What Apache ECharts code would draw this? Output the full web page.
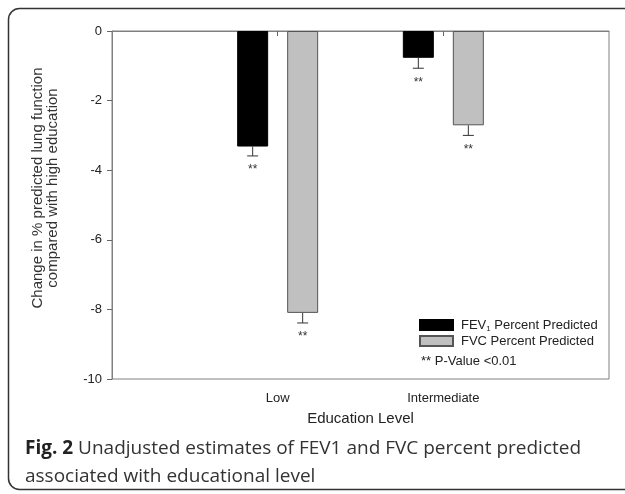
<!DOCTYPE html>
<html>
<head>
<meta charset="utf-8">
<script src="https://cdn.jsdelivr.net/npm/echarts@6/dist/echarts.min.js"></script>
<style>html,body{margin:0;padding:0;background:#fff;}#c{width:625px;height:494px;}</style>
</head>
<body>
<div id="c"></div>
<script>
const categories = ['Low', 'Intermediate'];
const fev1 = [-3.32, -0.77];
const fev1Err = [0.27, 0.30];
const fvc = [-8.10, -2.71];
const fvcErr = [0.29, 0.29];
const yMin = -10, yMax = 0, yInterval = 2;
const seriesNames = ['FEV1 Percent Predicted', 'FVC Percent Predicted'];
const yTitle = 'Change in % predicted lung function\ncompared with high education';
const xTitle = 'Education Level';
const noteText = '** P-Value <0.01';
const captionBold = 'Fig. 2';
const captionText = ' Unadjusted estimates of FEV1 and FVC percent predicted\nassociated with educational level';

const axisCats = [''].concat(categories, ['']);
const pad = arr => ['-'].concat(arr, ['-']);

const BAR_W = 31, BAR_GAP = 19;
const OFF = (BAR_W + BAR_GAP) / 2;

const errData = [];
categories.forEach((c, i) => {
  errData.push([i + 1, fev1[i], fev1Err[i], -1]);
  errData.push([i + 1, fvc[i], fvcErr[i], 1]);
});

const FONT = '"Liberation Sans", Arial, sans-serif';
const chart = echarts.init(document.getElementById('c'), null, {renderer: 'canvas'});
chart.setOption({
  animation: false,
  backgroundColor: '#fff',
  grid: {left: 112, top: 31, right: 16, bottom: 115, show: true, borderColor: '#808080', borderWidth: 1},
  xAxis: {
    type: 'category',
    data: axisCats,
    boundaryGap: false,
    axisLine: {lineStyle: {color: '#808080', width: 1}},
    axisTick: {length: 5, lineStyle: {color: '#666'}, interval: (i) => i > 0 && i < axisCats.length - 1},
    axisLabel: {color: '#222', fontSize: 13, fontFamily: FONT, margin: 13, interval: 0},
    name: xTitle,
    nameLocation: 'middle',
    nameGap: 32,
    nameTextStyle: {color: '#222', fontSize: 15, fontFamily: FONT},
    splitLine: {show: false}
  },
  yAxis: {
    type: 'value',
    min: yMin, max: yMax, interval: yInterval,
    axisLine: {show: true, lineStyle: {color: '#808080', width: 1}},
    axisTick: {show: true, length: 5, lineStyle: {color: '#666'}},
    axisLabel: {color: '#222', fontSize: 13, fontFamily: FONT, margin: 10},
    splitLine: {show: false}
  },
  legend: {
    orient: 'vertical',
    left: 419, top: 317, padding: 0,
    itemWidth: 33, itemHeight: 10, itemGap: 0,
    icon: 'rect',
    data: seriesNames,
    formatter: (n) => n.indexOf('FEV1') === 0 ? 'FEV{s|1}' + n.slice(4) : n,
    textStyle: {color: '#222', fontSize: 13, fontFamily: FONT, lineHeight: 16, padding: [0, 0, 0, 3],
      rich: {s: {fontSize: 8, fontFamily: FONT, color: '#222', lineHeight: 16, verticalAlign: 'bottom'}}}
  },
  series: [
    {name: seriesNames[0], type: 'bar', data: pad(fev1), barWidth: BAR_W, barGap: (BAR_GAP / BAR_W * 100).toFixed(1) + '%',
      itemStyle: {color: '#000', borderColor: '#000', borderWidth: 1}},
    {name: seriesNames[1], type: 'bar', data: pad(fvc), barWidth: BAR_W,
      itemStyle: {color: '#c0c0c0', borderColor: '#555', borderWidth: 1}},
    {type: 'custom', data: errData, z: 5, silent: true,
      renderItem: (params, api) => {
        const x = api.coord([api.value(0), 0])[0] + api.value(3) * OFF;
        const v = api.value(1), e = api.value(2);
        const y0 = api.coord([0, v])[1];
        const y1 = api.coord([0, v - e])[1];
        const st = {stroke: '#333', lineWidth: 1};
        return {type: 'group', children: [
          {type: 'line', shape: {x1: x, y1: y0, x2: x, y2: y1}, style: st},
          {type: 'line', shape: {x1: x - 5.5, y1: y1, x2: x + 5.5, y2: y1}, style: st},
          {type: 'text', style: {text: '**', x: x, y: y1 + 14, align: 'center', verticalAlign: 'middle', fontSize: 12, fontFamily: FONT, fill: '#333'}}
        ]};
      }}
  ],
  graphic: [
    {type: 'rect', shape: {x: 8.5, y: 8.5, width: 660, height: 481, r: 11}, style: {fill: 'none', stroke: '#333', lineWidth: 1.5}, silent: true},
    {type: 'text', x: 45, y: 188, rotation: Math.PI / 2, style: {
      text: yTitle, align: 'center', verticalAlign: 'middle',
      fontSize: 15, lineHeight: 15, fontFamily: FONT, fill: '#333'}},
    {type: 'text', left: 421, top: 355, style: {text: noteText, fontSize: 13, fontFamily: FONT, fill: '#222'}},
    {type: 'text', left: 25, top: 435, style: {
      text: '{b|' + captionBold + '}' + captionText,
      fontSize: 19, fontFamily: '"Open Sans", sans-serif', fill: '#333', lineHeight: 28,
      rich: {b: {fontSize: 19, fontWeight: 'bold', fontFamily: '"Open Sans", sans-serif', fill: '#222', lineHeight: 28}}
    }}
  ]
});
</script>
</body>
</html>
